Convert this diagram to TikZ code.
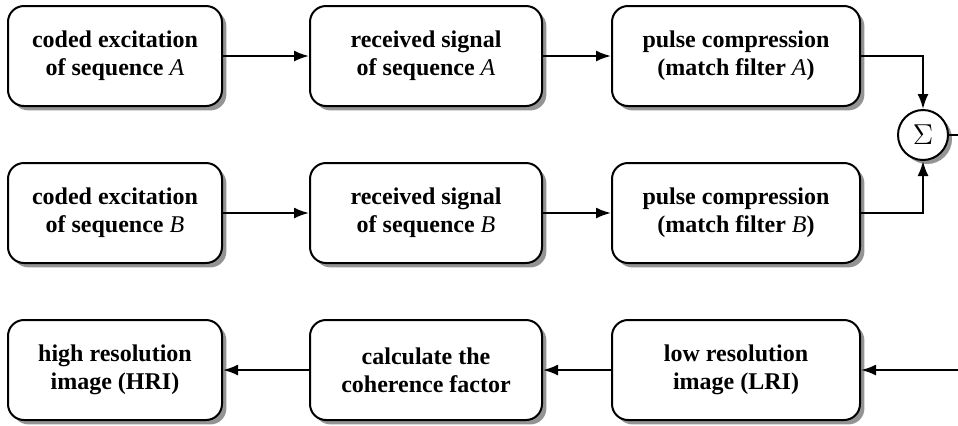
\documentclass[tikz,border=0pt]{standalone}
\usepackage{fontspec}
\setmainfont{Liberation Serif}
\usetikzlibrary{arrows.meta,shadows}
\newcommand{\seqv}[1]{{\mdseries\itshape #1}}

\begin{document}
\begin{tikzpicture}[x=0.5pt,y=-0.5pt,>={Latex[length=7.5pt,width=5.5pt]},line width=1pt,
    blk/.style={draw,fill=white,rounded corners=8pt,minimum height=50pt,align=center,
      font=\fontsize{12}{13.8}\selectfont\bfseries,
      drop shadow={shadow xshift=2.2pt,shadow yshift=-2.2pt,fill=black!60,opacity=0.7}},
    sumnode/.style={draw,fill=white,circle,minimum size=25pt,inner sep=0pt,font=\Large,
      drop shadow={shadow xshift=2pt,shadow yshift=-2pt,fill=black!60,opacity=0.7}}]
    \useasboundingbox (0,0) rectangle (958,425);
    % first row
    \node[blk,minimum width=107pt] (CA) at (115,56) {coded excitation\\of sequence \seqv{A}};
    \node[blk,minimum width=116pt] (RA) at (426,56) {received signal\\of sequence \seqv{A}};
    \node[blk,minimum width=124pt] (PA) at (736,56) {pulse compression\\(match filter \seqv{A})};
    % second row
    \node[blk,minimum width=107pt] (CB) at (115,213) {coded excitation\\of sequence \seqv{B}};
    \node[blk,minimum width=116pt] (RB) at (426,213) {received signal\\of sequence \seqv{B}};
    \node[blk,minimum width=124pt] (PB) at (736,213) {pulse compression\\(match filter \seqv{B})};
    % third row
    \node[blk,minimum width=107pt] (HRI) at (115,370) {high resolution\\image (HRI)};
    \node[blk,minimum width=116pt] (CF) at (426,370) {calculate the\\coherence factor};
    \node[blk,minimum width=124pt] (LRI) at (736,370) {low resolution\\image (LRI)};
    \node[sumnode] (S) at (923,135) {$\Sigma$};
    \coordinate (R1) at (1000,135); \coordinate (R3) at (1000,370);
    \draw[->] (CA) -- (RA); \draw[->] (RA) -- (PA);
    \draw[->] (CB) -- (RB); \draw[->] (RB) -- (PB);
    \draw[->] (PA) -| (S); \draw[->] (PB) -| (S);
    \draw[->] (S) -- (R1) -- (R3) -- (LRI);
    \draw[->] (LRI) -- (CF); \draw[->] (CF) -- (HRI);
  \end{tikzpicture}
\end{document}
